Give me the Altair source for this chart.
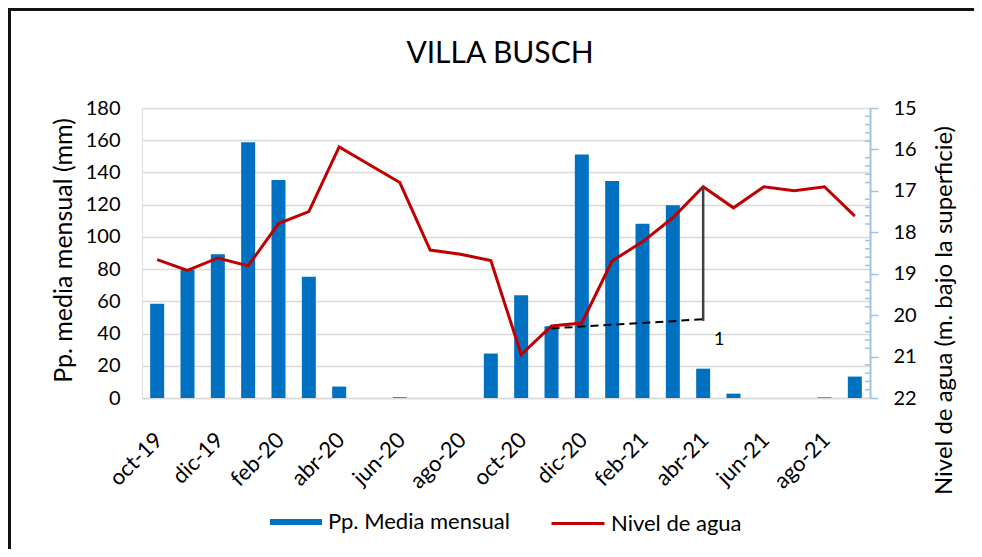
import altair as alt
import pandas as pd

# ---- data ----
months = ["oct-19", "nov-19", "dic-19", "ene-20", "feb-20", "mar-20", "abr-20", "may-20",
          "jun-20", "jul-20", "ago-20", "sep-20", "oct-20", "nov-20", "dic-20", "ene-21",
          "feb-21", "mar-21", "abr-21", "may-21", "jun-21", "jul-21", "ago-21", "sep-21"]
pp = [58.5, 79.6, 89.2, 158.8, 135.3, 75.3, 7.1, 0, 0.4, 0, 0, 27.6,
      63.7, 44.6, 151.1, 134.7, 108.1, 119.7, 18.2, 2.7, 0, 0, 0.4, 13.3]
nivel = [18.66, 18.92, 18.62, 18.81, 17.79, 17.5, 15.94, 16.37, 16.8, 18.43, 18.53, 18.68,
         20.95, 20.26, 20.19, 18.69, 18.23, 17.65, 16.9, 17.41, 16.9, 17.0, 16.9, 17.61]
tick_labels = months[::2]
series = ["Pp. Media mensual", "Nivel de agua"]
title_text = ["VILLA BUSCH"]

# annotation (slope marker)
dash_mes = ["nov-20", "abr-21"]
dash_val = [20.32, 20.1]
vert_mes = ["abr-21"]
vert_top = [16.9]
vert_bot = [20.14]
lab_mes = ["abr-21"]
lab_val = [20.6]
lab_txt = ["1"]
minor_ticks = [15.2, 15.4, 15.6, 15.8, 16.2, 16.4, 16.6, 16.8, 17.2, 17.4, 17.6, 17.8,
               18.2, 18.4, 18.6, 18.8, 19.2, 19.4, 19.6, 19.8, 20.2, 20.4, 20.6, 20.8,
               21.2, 21.4, 21.6, 21.8]

FONT = "Lato"
W, H = 728, 290

df = pd.DataFrame({"mes": months, "pp": pp, "nivel": nivel,
                   "s_pp": series[0], "s_niv": series[1]})

xenc = alt.X("mes:N", sort=months, title=None,
             scale=alt.Scale(paddingInner=0.54, paddingOuter=0.27),
             axis=alt.Axis(values=tick_labels, labelAngle=-45, labelFontSize=22,
                           labelFont=FONT, labelColor="#000000", ticks=False,
                           labelAlign="right", labelBaseline="middle",
                           domainColor="#D9D9D9", domainWidth=1.5, labelPadding=38,
                           labelOffset=2))

bars = alt.Chart(df).mark_bar(size=14).encode(
    x=xenc,
    y=alt.Y("pp:Q", scale=alt.Scale(domain=[0, 180]),
            axis=alt.Axis(values=list(range(0, 181, 20)), title="Pp. media mensual (mm)",
                          domain=False, ticks=False, gridColor="#D9D9D9", gridWidth=1.5,
                          labelFontSize=20, labelFont=FONT, labelColor="#000000",
                          labelPadding=22, titleFontSize=25, titleFont=FONT,
                          titleFontWeight="normal", titleColor="#000000",
                          titleAngle=270, titleX=-79, titleY=142, titleBaseline="middle",
                          titleLimit=400)),
    fill=alt.Fill("s_pp:N",
                  scale=alt.Scale(domain=[series[0]], range=["#0070C0"]),
                  legend=alt.Legend(title=None, orient="none", legendX=128, legendY=388,
                                    symbolType="M-1,-0.115L1,-0.115L1,0.115L-1,0.115Z",
                                    symbolSize=2704, symbolStrokeWidth=0,
                                    labelFontSize=22, labelFont=FONT, labelLimit=400,
                                    labelColor="#000000", labelOffset=6)),
)

ydom = alt.Scale(domain=[15, 22], reverse=True, zero=False, nice=False)

line = alt.Chart(df).mark_line(strokeWidth=3).encode(
    x=alt.X("mes:N", sort=months),
    y=alt.Y("nivel:Q", scale=ydom,
            axis=alt.Axis(orient="right", values=list(range(15, 23)),
                          title="Nivel de agua (m. bajo la superficie)",
                          grid=False, domainColor="#9DC3E6", domainWidth=2,
                          tickColor="#9DC3E6", tickWidth=1.5, tickSize=8,
                          labelFontSize=20, labelFont=FONT, labelColor="#000000",
                          labelPadding=15, titleFontSize=24, titleFont=FONT,
                          titleFontWeight="normal", titleColor="#000000",
                          titleAngle=270, titleX=74, titleY=202, titleBaseline="middle",
                          titleLimit=500)),
    stroke=alt.Stroke("s_niv:N",
                      scale=alt.Scale(domain=[series[1]], range=["#C00000"]),
                      legend=alt.Legend(title=None, orient="none", legendX=408, legendY=387.5,
                                        symbolType="stroke", symbolSize=2809,
                                        symbolStrokeWidth=3,
                                        labelFontSize=22, labelFont=FONT, labelLimit=400,
                                        labelColor="#000000", labelOffset=5)),
)

dash = alt.Chart(pd.DataFrame({"mes": dash_mes, "v": dash_val})).mark_line(
    color="#000000", strokeWidth=2, strokeDash=[8, 5]).encode(
    x=alt.X("mes:N", sort=months), y=alt.Y("v:Q", scale=ydom))

vert = alt.Chart(pd.DataFrame({"mes": vert_mes, "a": vert_top, "b": vert_bot})).mark_rule(
    color="#404040", strokeWidth=2.5).encode(
    x=alt.X("mes:N", sort=months), y=alt.Y("a:Q", scale=ydom), y2="b:Q")

lab = alt.Chart(pd.DataFrame({"mes": lab_mes, "v": lab_val, "t": lab_txt})).mark_text(
    fontSize=18, font=FONT, color="#000000", dx=16).encode(
    x=alt.X("mes:N", sort=months), y=alt.Y("v:Q", scale=ydom), text="t:N")

minor = alt.Chart(pd.DataFrame({"v": minor_ticks})).mark_rule(
    color="#9DC3E6", strokeWidth=1.5).encode(
    y=alt.Y("v:Q", scale=ydom), x=alt.value(W - 5), x2=alt.value(W))

title = alt.Chart(pd.DataFrame({"t": title_text})).mark_text(
    fontSize=30, font=FONT, color="#000000", align="center", baseline="alphabetic").encode(
    text="t:N", x=alt.value(W / 2 - 6), y=alt.value(-45))

frame = alt.Chart(pd.DataFrame({"k": [0]}))
frame_left = frame.mark_rule(color="#111111", strokeWidth=3).encode(
    x=alt.value(-132.5), y=alt.value(-100), y2=alt.value(H + 160))
frame_top = frame.mark_rule(color="#111111", strokeWidth=3).encode(
    y=alt.value(-98.5), x=alt.value(-134), x2=alt.value(W + 120))

right_layer = alt.layer(line, dash, vert, lab, minor)

chart = alt.layer(bars, right_layer, title, frame_left, frame_top).resolve_scale(
    y="independent", fill="independent", stroke="independent"
).properties(
    width=W, height=H,
    autosize=alt.AutoSizeParams(type="none"),
    padding={"left": 134, "top": 100, "right": 104, "bottom": 151},
).configure_view(stroke=None).configure(background="#FFFFFF")

chart.save("out.html", embed_options={"renderer": "svg", "actions": False})
